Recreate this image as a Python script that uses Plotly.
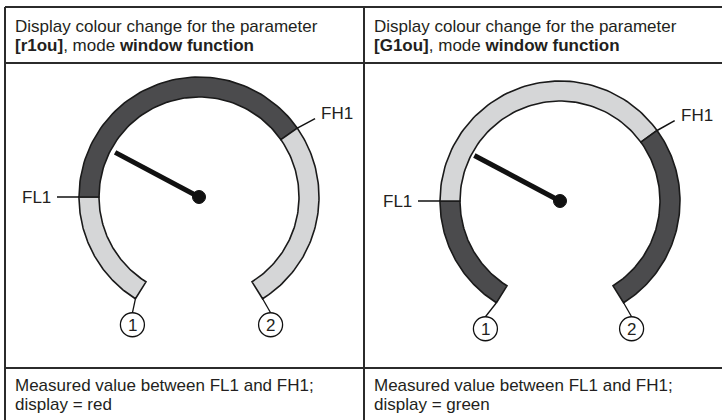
import numpy as np
import plotly.graph_objects as go

W, H = 722, 420

# ---- texts ----
header_line1 = ["Display colour change for the parameter",
                "Display colour change for the parameter"]
header_line2 = ["<b>[r1ou]</b>, mode <b>window function</b>",
                "<b>[G1ou]</b>, mode <b>window function</b>"]
footer_line1 = ["Measured value between FL1 and FH1;",
                "Measured value between FL1 and FH1;"]
footer_line2 = ["display = red", "display = green"]
low_label = ["FL1", "FL1"]
high_label = ["FH1", "FH1"]
end_labels = ["1", "2"]

# ---- gauge values (angles in degrees, 0 = right, ccw) ----
arc_start_deg = [238, 238]
fl1_deg = [180, 180]
fh1_deg = [35, 36]
arc_end_deg = [-58, -58]
needle_deg = [152, 152]
segment_shades = [["light", "dark", "light"], ["dark", "light", "dark"]]

# ---- geometry / style ----
gauge_cx = [199, 560]
gauge_cy = [197, 201]
R_OUT, R_IN = 120, 100
needle_len = [95, 97]
shade_color = {"light": "#d5d6d7", "dark": "#4b4b4d"}
FONT = "Liberation Sans, Arial, sans-serif"
TXT = "#231f20"
col_left = [5, 364]

fig = go.Figure()
shapes = []
annotations = []


def pt(cx, cy, r, deg):
    a = np.radians(deg)
    return cx + r * np.cos(a), cy - r * np.sin(a)


for g in range(2):
    cx, cy = gauge_cx[g], gauge_cy[g]
    bounds = [arc_start_deg[g], fl1_deg[g], fh1_deg[g], arc_end_deg[g]]
    for s in range(3):
        a0, a1 = bounds[s], bounds[s + 1]
        ang = np.linspace(a0, a1, 80)
        xo, yo = pt(cx, cy, R_OUT, ang)
        xi, yi = pt(cx, cy, R_IN, ang[::-1])
        xs = np.concatenate([xo, xi, xo[:1]])
        ys = np.concatenate([yo, yi, yo[:1]])
        fig.add_trace(go.Scatter(
            x=xs, y=ys, mode="lines", fill="toself",
            fillcolor=shade_color[segment_shades[g][s]],
            line=dict(color="#1a1a1a", width=1.6),
            hoverinfo="skip", showlegend=False))

    # needle
    tx, ty = pt(cx, cy, needle_len[g], needle_deg[g])
    shapes.append(dict(type="line", x0=cx, y0=cy, x1=tx, y1=ty,
                       line=dict(color="#111111", width=5)))
    shapes.append(dict(type="circle", x0=cx - 6.5, y0=cy - 6.5, x1=cx + 6.5, y1=cy + 6.5,
                       fillcolor="#111111", line=dict(color="#111111", width=1)))

    # FL1 leader and label
    lx, ly = pt(cx, cy, R_OUT, fl1_deg[g])
    shapes.append(dict(type="line", x0=lx - 22, y0=ly, x1=lx, y1=ly,
                       line=dict(color="#111111", width=1.5)))
    annotations.append(dict(x=lx - 26, y=ly, text=low_label[g], showarrow=False,
                            xanchor="right", yanchor="middle",
                            font=dict(family=FONT, size=17, color=TXT)))

    # FH1 leader and label
    hx0, hy0 = pt(cx, cy, R_OUT, fh1_deg[g])
    hx1, hy1 = pt(cx, cy, R_OUT + 20, fh1_deg[g] - 1)
    shapes.append(dict(type="line", x0=hx0, y0=hy0, x1=hx1, y1=hy1,
                       line=dict(color="#111111", width=1.5)))
    annotations.append(dict(x=hx1 + 4, y=hy1 - 5, text=high_label[g], showarrow=False,
                            xanchor="left", yanchor="middle",
                            font=dict(family=FONT, size=17, color=TXT)))

    # numbered end markers
    ends = [arc_start_deg[g], arc_end_deg[g]]
    offs = [-3 if g == 0 else -11, 8 if g == 0 else 8]
    for k in range(2):
        ex, ey = pt(cx, cy, R_OUT, ends[k])
        ccx, ccy = ex + offs[k], ey + 26
        rr = 12
        shapes.append(dict(type="line", x0=ex, y0=ey, x1=ccx, y1=ccy - rr,
                           line=dict(color="#111111", width=1.3)))
        shapes.append(dict(type="circle", x0=ccx - rr, y0=ccy - rr, x1=ccx + rr, y1=ccy + rr,
                           fillcolor="white", line=dict(color="#111111", width=1.3)))
        annotations.append(dict(x=ccx, y=ccy + 0.5, text=end_labels[k], showarrow=False,
                                xanchor="center", yanchor="middle",
                                font=dict(family=FONT, size=17, color=TXT)))

    # header / footer texts
    tx0 = col_left[g] + 8
    for txt, yy in [(header_line1[g], 26), (header_line2[g], 45),
                    (footer_line1[g], 385), (footer_line2[g], 404)]:
        annotations.append(dict(x=tx0, y=yy, text=txt, showarrow=False,
                                xanchor="left", yanchor="middle",
                                font=dict(family=FONT, size=17, color=TXT)))

# table lines
LC = "#2b2b2b"
for (x0, y0, x1, y1) in [(5, 7, W, 7), (5, 63, W, 63), (5, 368, W, 368),
                         (5, 7, 5, H), (364, 7, 364, H)]:
    shapes.append(dict(type="line", x0=x0, y0=y0, x1=x1, y1=y1,
                       line=dict(color=LC, width=2)))

fig.update_layout(
    width=W, height=H,
    margin=dict(l=0, r=0, t=0, b=0, pad=0),
    paper_bgcolor="white", plot_bgcolor="white",
    xaxis=dict(range=[0, W], visible=False, fixedrange=True),
    yaxis=dict(range=[H, 0], visible=False, fixedrange=True),
    shapes=shapes, annotations=annotations, showlegend=False,
)

fig.write_html("out.html", config={"displayModeBar": False},
               post_script="document.body.style.margin='0';document.body.style.overflow='hidden';")
